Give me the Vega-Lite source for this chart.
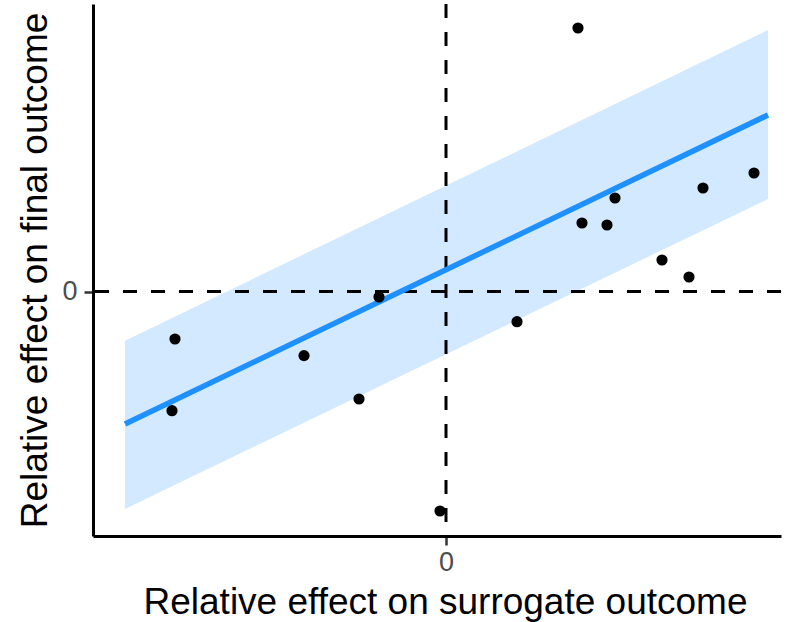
{
  "$schema": "https://vega.github.io/schema/vega-lite/v6.json",
  "width": 688,
  "height": 532,
  "autosize": "none",
  "padding": {"left": 93, "top": 4, "right": 6, "bottom": 86},
  "background": "white",
  "config": {
    "view": {"stroke": null},
    "axis": {
      "grid": false,
      "domainColor": "black",
      "domainWidth": 3,
      "tickColor": "#333333",
      "tickWidth": 2.5,
      "tickSize": 9,
      "labelColor": "#4D4D4D",
      "labelFont": "Liberation Sans",
      "labelFontSize": 27,
      "labelPadding": 4,
      "titleFont": "Liberation Sans",
      "titleFontWeight": "normal",
      "titleColor": "black"
    }
  },
  "datasets": {
    "pts": [
      {"x": -2.71, "y": -0.475},
      {"x": -2.74, "y": -1.192},
      {"x": -1.42, "y": -0.641},
      {"x": -0.87, "y": -1.075},
      {"x": -0.67, "y": -0.055},
      {"x": -0.06, "y": -2.195},
      {"x": 0.71, "y": -0.302},
      {"x": 1.32, "y": 2.635},
      {"x": 1.36, "y": 0.685},
      {"x": 1.61, "y": 0.665},
      {"x": 1.69, "y": 0.935},
      {"x": 2.16, "y": 0.315},
      {"x": 2.43, "y": 0.145},
      {"x": 2.57, "y": 1.035},
      {"x": 3.08, "y": 1.185}
    ],
    "fit": [
      {"x": -3.21, "fit": -1.325, "lo": -2.175, "hi": -0.492},
      {"x": 3.22, "fit": 1.765, "lo": 0.925, "hi": 2.615}
    ]
  },
  "layer": [
    {
      "data": {"name": "fit"},
      "mark": {"type": "area", "color": "#D2E9FF", "opacity": 1},
      "encoding": {
        "x": {"field": "x", "type": "quantitative", "scale": {"domain": [-3.53, 3.35], "nice": false, "zero": false},
              "axis": {"values": [0], "format": "d", "title": "Relative effect on surrogate outcome", "titleFontSize": 37, "titlePadding": 9, "titleX": 352}},
        "y": {"field": "lo", "type": "quantitative", "scale": {"domain": [-2.445, 2.875], "nice": false, "zero": false},
              "axis": {"values": [0], "format": "d", "labelPadding": 7, "title": "Relative effect on final outcome", "titleFontSize": 37, "titlePadding": 7}},
        "y2": {"field": "hi"}
      }
    },
    {
      "data": {"values": [{"v": 0}]},
      "mark": {"type": "rule", "color": "black", "strokeWidth": 3, "strokeDash": [14, 14]},
      "encoding": {"x": {"field": "v", "type": "quantitative"}}
    },
    {
      "data": {"values": [{"v": 0}]},
      "mark": {"type": "rule", "color": "black", "strokeWidth": 3, "strokeDash": [14, 14]},
      "encoding": {"y": {"field": "v", "type": "quantitative"}}
    },
    {
      "data": {"name": "fit"},
      "mark": {"type": "line", "color": "#1E90FF", "strokeWidth": 5.5},
      "encoding": {
        "x": {"field": "x", "type": "quantitative"},
        "y": {"field": "fit", "type": "quantitative"}
      }
    },
    {
      "data": {"name": "pts"},
      "mark": {"type": "circle", "color": "black", "opacity": 1, "size": 125},
      "encoding": {
        "x": {"field": "x", "type": "quantitative"},
        "y": {"field": "y", "type": "quantitative"}
      }
    }
  ]
}
